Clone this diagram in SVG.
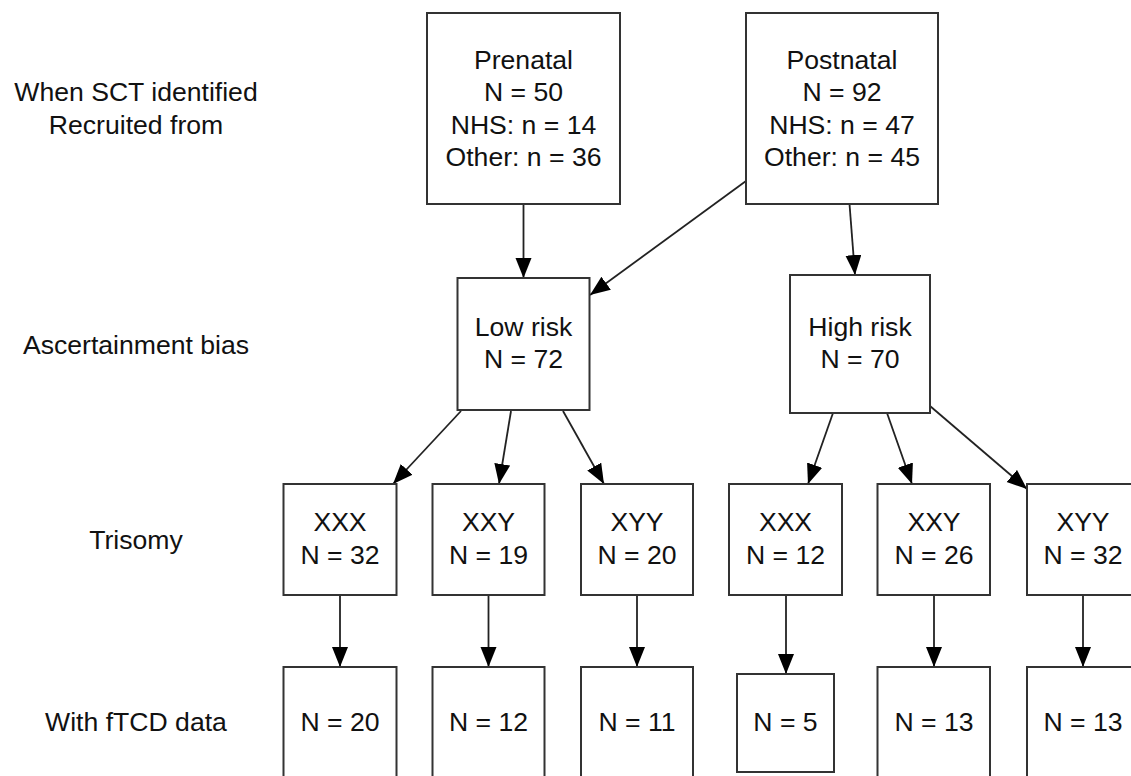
<svg xmlns="http://www.w3.org/2000/svg" width="1131" height="776" viewBox="0 0 1131 776">
<defs>
<marker id="arr" markerUnits="userSpaceOnUse" markerWidth="22" markerHeight="18" refX="20" refY="8" orient="auto">
<path d="M0,0 L20,8 L0,16 z" fill="#000"/>
</marker>
<style>
.box{fill:#fff;stroke:#333;stroke-width:2}
.t{font-family:"Liberation Sans",Arial,sans-serif;font-size:26.6px;fill:#111;text-anchor:middle}
.c{stroke:#222;stroke-width:1.8;fill:none;marker-end:url(#arr)}
</style>
</defs>
<rect width="1131" height="776" fill="#fff"/>
<g id="row-labels">
<text class="t" x="136" y="101">When SCT identified</text>
<text class="t" x="136" y="134">Recruited from</text>
<text class="t" x="136" y="354">Ascertainment bias</text>
<text class="t" x="136" y="549">Trisomy</text>
<text class="t" x="136" y="731">With fTCD data</text>
</g>
<g id="connectors">
<line class="c" x1="523.5" y1="204" x2="523.5" y2="278"/>
<line class="c" x1="746" y1="181" x2="590" y2="295"/>
<line class="c" x1="849.5" y1="204" x2="855" y2="275"/>
<line class="c" x1="461" y1="411" x2="393" y2="484"/>
<line class="c" x1="511" y1="411" x2="499" y2="484"/>
<line class="c" x1="563" y1="411" x2="604" y2="484"/>
<line class="c" x1="833" y1="413" x2="808" y2="484"/>
<line class="c" x1="887" y1="413" x2="912" y2="484"/>
<line class="c" x1="930" y1="406" x2="1027" y2="489"/>
<line class="c" x1="340" y1="595" x2="340" y2="667"/>
<line class="c" x1="488.5" y1="595" x2="488.5" y2="667"/>
<line class="c" x1="637" y1="595" x2="637" y2="667"/>
<line class="c" x1="786" y1="595" x2="786" y2="674"/>
<line class="c" x1="934" y1="595" x2="934" y2="667"/>
<line class="c" x1="1083" y1="595" x2="1083" y2="667"/>
</g>
<g id="prenatal">
<rect class="box" x="427" y="13" width="193" height="191"/>
<text class="t" x="523.5" y="69">Prenatal</text>
<text class="t" x="523.5" y="101">N = 50</text>
<text class="t" x="523.5" y="134">NHS: n = 14</text>
<text class="t" x="523.5" y="166">Other: n = 36</text>
</g>
<g id="postnatal">
<rect class="box" x="746" y="13" width="192" height="191"/>
<text class="t" x="842" y="69">Postnatal</text>
<text class="t" x="842" y="101">N = 92</text>
<text class="t" x="842" y="134">NHS: n = 47</text>
<text class="t" x="842" y="166">Other: n = 45</text>
</g>
<g id="lowrisk">
<rect class="box" x="457.5" y="278" width="132" height="132"/>
<text class="t" x="523.5" y="336">Low risk</text>
<text class="t" x="523.5" y="368">N = 72</text>
</g>
<g id="highrisk">
<rect class="box" x="790" y="275" width="140" height="138"/>
<text class="t" x="860" y="336">High risk</text>
<text class="t" x="860" y="368">N = 70</text>
</g>
<g id="low-xxx">
<rect class="box" x="283.5" y="484" width="113" height="111"/>
<text class="t" x="340" y="531">XXX</text>
<text class="t" x="340" y="564">N = 32</text>
</g>
<g id="low-xxy">
<rect class="box" x="432.5" y="484" width="112" height="111"/>
<text class="t" x="488.5" y="531">XXY</text>
<text class="t" x="488.5" y="564">N = 19</text>
</g>
<g id="low-xyy">
<rect class="box" x="581" y="484" width="112" height="111"/>
<text class="t" x="637" y="531">XYY</text>
<text class="t" x="637" y="564">N = 20</text>
</g>
<g id="high-xxx">
<rect class="box" x="729" y="484" width="113" height="111"/>
<text class="t" x="785.5" y="531">XXX</text>
<text class="t" x="785.5" y="564">N = 12</text>
</g>
<g id="high-xxy">
<rect class="box" x="877.5" y="484" width="112.5" height="111"/>
<text class="t" x="934" y="531">XXY</text>
<text class="t" x="934" y="564">N = 26</text>
</g>
<g id="high-xyy">
<rect class="box" x="1027" y="484" width="112" height="111"/>
<text class="t" x="1083" y="531">XYY</text>
<text class="t" x="1083" y="564">N = 32</text>
</g>
<g id="low-xxx-ftcd">
<rect class="box" x="283.5" y="667" width="113" height="120"/>
<text class="t" x="340" y="731">N = 20</text>
</g>
<g id="low-xxy-ftcd">
<rect class="box" x="432.5" y="667" width="112" height="120"/>
<text class="t" x="488.5" y="731">N = 12</text>
</g>
<g id="low-xyy-ftcd">
<rect class="box" x="581" y="667" width="112" height="120"/>
<text class="t" x="637" y="731">N = 11</text>
</g>
<g id="high-xxx-ftcd">
<rect class="box" x="737" y="674" width="97" height="98"/>
<text class="t" x="785.5" y="731">N = 5</text>
</g>
<g id="high-xxy-ftcd">
<rect class="box" x="877.5" y="667" width="112.5" height="120"/>
<text class="t" x="934" y="731">N = 13</text>
</g>
<g id="high-xyy-ftcd">
<rect class="box" x="1027" y="667" width="112" height="120"/>
<text class="t" x="1083" y="731">N = 13</text>
</g>
</svg>
